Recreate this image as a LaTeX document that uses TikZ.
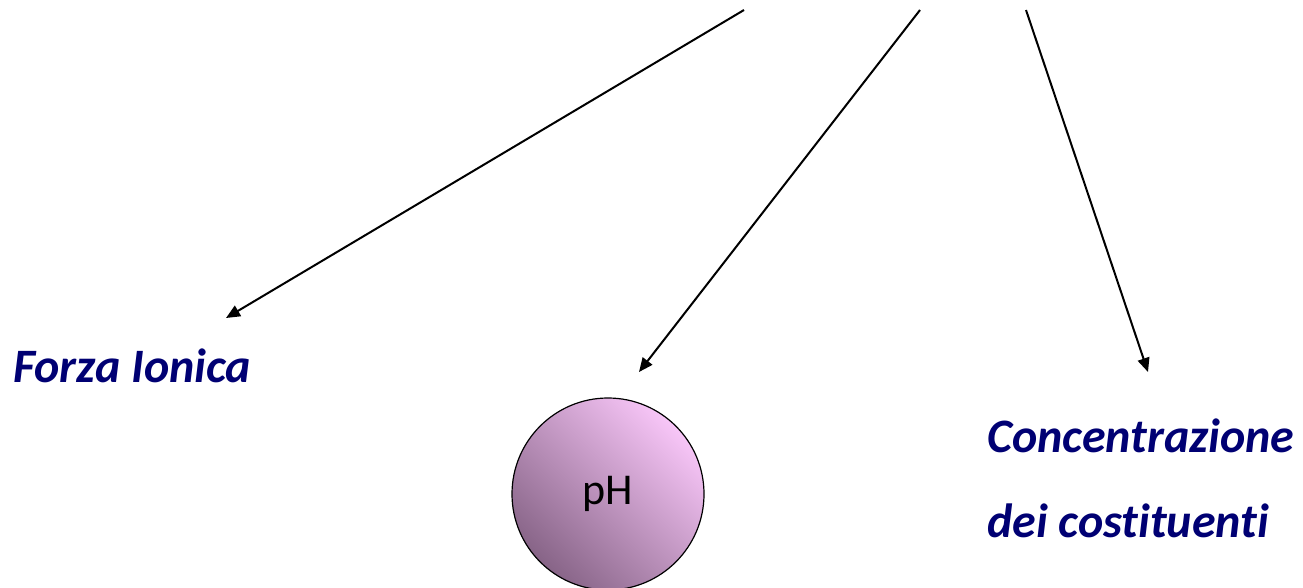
\documentclass[tikz,border=0pt]{standalone}
\usepackage{fontspec}
\setmainfont[Ligatures=NoCommon]{Carlito}
\usepackage{tikz}
\usetikzlibrary{arrows.meta,positioning}
\definecolor{navytext}{RGB}{0,0,115}
\definecolor{phlight}{RGB}{248,198,248}
\definecolor{phdark}{RGB}{135,100,135}

\begin{document}
\begin{tikzpicture}[
    x=1pt, y=-1pt,
    lbl/.style={anchor=base west, inner sep=0pt, text=navytext, font=\fontsize{48}{56}\selectfont\bfseries\itshape},
    ball/.style={circle, draw, line width=1.2pt, minimum size=192pt, inner sep=0pt, top color=phlight, bottom color=phdark, shading angle=-45, font=\fontsize{44}{52}\selectfont},
    arr/.style={-{Triangle[length=14pt,width=12pt]}, line width=2pt}
]
\useasboundingbox (0,0) rectangle (1303,587);

% --- Sources ---
\coordinate (s1) at (744,10);
\coordinate (s2) at (920,10);
\coordinate (s3) at (1026,10);

% --- Targets ---
\node[lbl] (fi) at (13,382) {Forza Ionica};
\node[ball] (ph) at (608,494) {pH};
\node[lbl] (cc) at (987,452) {Concentrazione};
\node[lbl] (dc) at (987,537) {dei costituenti};

% --- Arrow tips ---
\coordinate (t1) at (226,318);
\coordinate (t2) at (639,372);
\coordinate (t3) at (1148,372);

\draw[arr] (s1)--(t1);
\draw[arr] (s2)--(t2);
\draw[arr] (s3)--(t3);
\end{tikzpicture}
\end{document}
